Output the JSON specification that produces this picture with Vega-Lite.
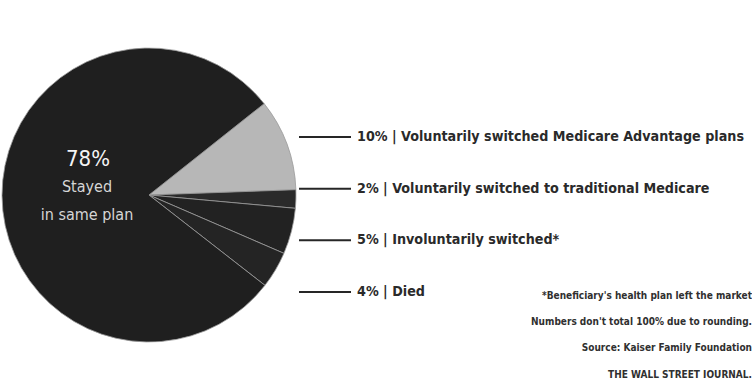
{
  "$schema": "https://vega.github.io/schema/vega-lite/v6.json",
  "padding": 0,
  "background": "white",
  "spacing": 0,
  "config": {"view": {"stroke": null}, "concat": {"spacing": 0}},
  "hconcat": [
    {
      "width": 294,
      "height": 390,
      "data": {"values": [
        {"category": "Voluntarily switched Medicare Advantage plans", "pct": 10, "rank": 1},
        {"category": "Voluntarily switched to traditional Medicare", "pct": 2, "rank": 2},
        {"category": "Involuntarily switched", "pct": 5, "rank": 3},
        {"category": "Died", "pct": 4, "rank": 4},
        {"category": "Stayed in same plan", "pct": 78, "rank": 5}
      ]},
      "layer": [
        {
          "mark": {"type": "arc", "outerRadius": 147, "stroke": "#9a9a9a", "strokeWidth": 0.8},
          "encoding": {
            "theta": {"field": "pct", "type": "quantitative", "stack": true, "scale": {"range": [0.9, 7.1832]}},
            "order": {"field": "rank", "type": "quantitative"},
            "color": {
              "field": "category", "type": "nominal", "legend": null,
              "scale": {
                "domain": ["Voluntarily switched Medicare Advantage plans", "Voluntarily switched to traditional Medicare", "Involuntarily switched", "Died", "Stayed in same plan"],
                "range": ["#b7b7b7", "#2a2a2a", "#222222", "#242424", "#1f1f1f"]
              }
            }
          }
        },
        {
          "transform": [{"filter": "datum.rank == 5"}],
          "mark": {"type": "text", "dx": -61, "dy": -36, "font": "DejaVu Sans Condensed", "fontSize": 22, "color": "#f4f4f4"},
          "encoding": {"text": {"value": "78%"}}
        },
        {
          "transform": [{"filter": "datum.rank == 5"}],
          "mark": {"type": "text", "dx": -62, "dy": -8, "font": "DejaVu Sans Condensed", "fontSize": 16, "color": "#d6d6d6"},
          "encoding": {"text": {"value": "Stayed"}}
        },
        {
          "transform": [{"filter": "datum.rank == 5"}],
          "mark": {"type": "text", "dx": -62, "dy": 20, "font": "DejaVu Sans Condensed", "fontSize": 16, "color": "#d6d6d6"},
          "encoding": {"text": {"value": "in same plan"}}
        }
      ]
    },
    {
      "width": 52,
      "height": 390,
      "data": {"values": [
        {"label": "10% | Voluntarily switched Medicare Advantage plans"},
        {"label": "2% | Voluntarily switched to traditional Medicare"},
        {"label": "5% | Involuntarily switched*"},
        {"label": "4% | Died"}
      ]},
      "mark": {"type": "rule", "color": "#262626", "strokeWidth": 2},
      "encoding": {
        "y": {"field": "label", "type": "nominal", "sort": null, "axis": null, "scale": {"type": "point", "range": [137, 292], "padding": 0}}
      }
    },
    {
      "width": 406,
      "height": 390,
      "layer": [
        {
          "data": {"values": [
            {"label": "10% | Voluntarily switched Medicare Advantage plans"},
            {"label": "2% | Voluntarily switched to traditional Medicare"},
            {"label": "5% | Involuntarily switched*"},
            {"label": "4% | Died"}
          ]},
          "mark": {"type": "text", "align": "left", "baseline": "middle", "font": "DejaVu Sans Condensed", "fontSize": 14.2, "fontWeight": "bold", "color": "#2a2a2a"},
          "encoding": {
            "x": {"value": 5},
            "y": {"field": "label", "type": "nominal", "sort": null, "axis": null, "scale": {"type": "point", "range": [137, 292], "padding": 0}},
            "text": {"field": "label"}
          }
        },
        {
          "data": {"values": [
            {"note": "*Beneficiary's health plan left the market"},
            {"note": "Numbers don't total 100% due to rounding."},
            {"note": "Source: Kaiser Family Foundation"},
            {"note": "THE WALL STREET JOURNAL."}
          ]},
          "mark": {"type": "text", "align": "right", "baseline": "middle", "dx": -6, "font": "DejaVu Sans Condensed", "fontSize": 10, "fontWeight": "bold", "color": "#303030"},
          "encoding": {
            "x": {"value": "width"},
            "y": {"field": "note", "type": "nominal", "sort": null, "axis": null, "scale": {"type": "point", "range": [296, 374.5], "padding": 0}},
            "text": {"field": "note"}
          }
        }
      ],
      "resolve": {"scale": {"y": "independent"}}
    }
  ]
}
